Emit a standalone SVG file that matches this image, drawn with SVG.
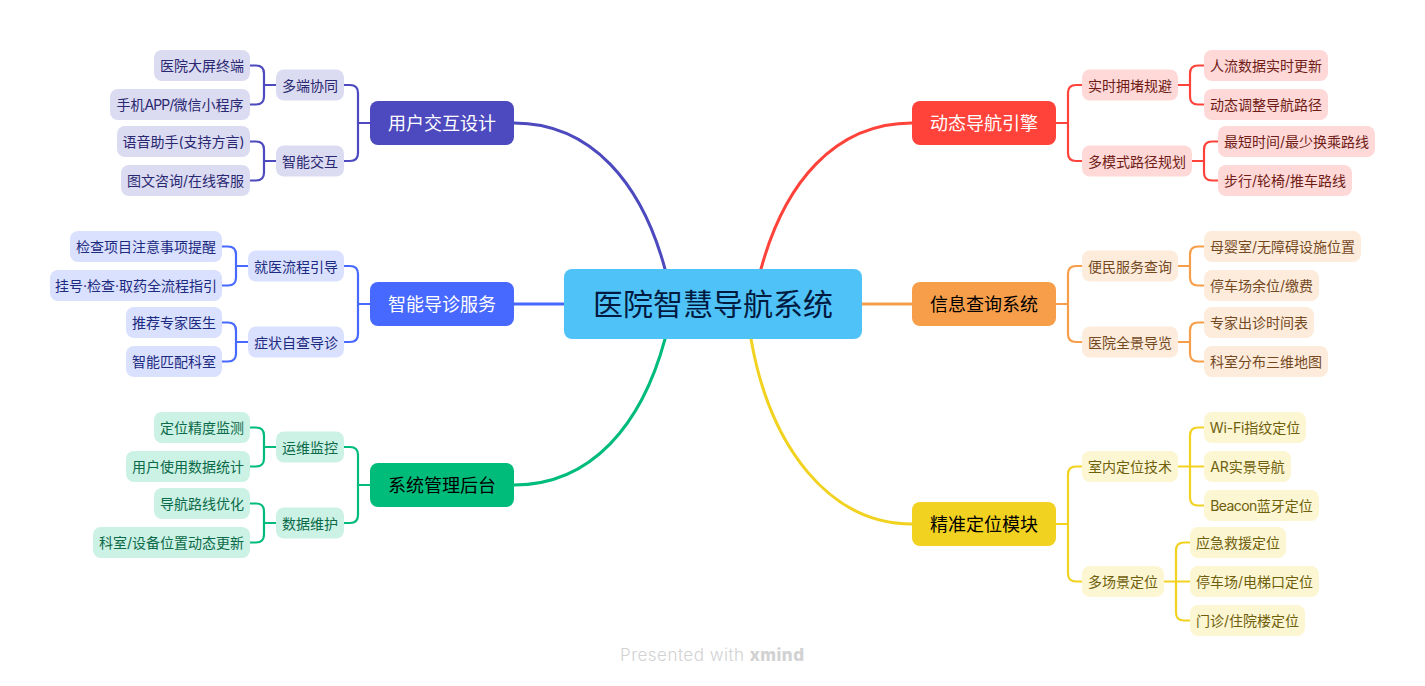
<svg xmlns="http://www.w3.org/2000/svg" width="1425" height="686" viewBox="0 0 1425 686">
<style>
text{font-family:Inter,"Noto Sans CJK SC",sans-serif;text-anchor:middle}
.l{font-size:14px}.m{font-size:18px}.c{font-size:30px;fill:#001a40}
.e{fill:none;stroke-linecap:round;stroke-linejoin:round}
.t{stroke-width:3}.b{stroke-width:2.2}
.pu{stroke:#4d49be}.bl{stroke:#4869ff}.gr{stroke:#00bc7b}.re{stroke:#ff433a}.or{stroke:#f79e4b}.ye{stroke:#f2d220}
rect.fpu{fill:#4d49be}rect.fbl{fill:#4869ff}rect.fgr{fill:#00bc7b}rect.fre{fill:#ff433a}rect.for{fill:#f79e4b}rect.fye{fill:#f2d220}
rect.spu{fill:#dbdbf2}rect.sbl{fill:#dae1ff}rect.sgr{fill:#ccf2e5}rect.sre{fill:#ffd9d8}rect.sor{fill:#fdecdb}rect.sye{fill:#fcf6d2}
text.spu{fill:#2a2870}text.sbl{fill:#1c2a80}text.sgr{fill:#0b6a49}text.sre{fill:#701c17}text.sor{fill:#75491f}text.sye{fill:#6f5f0c}
</style>
<g id="connectors">
<path class="e t pu" d="M514 123C592 123 642 184 665 269"/>
<path class="e t re" d="M912 123C834 123 784 184 761 269"/>
<path class="e t gr" d="M514 485C592 485 642 424 665 339"/>
<path class="e t ye" d="M912 524C830 524 770 448 751 339"/>
<path class="e t bl" d="M514 304H564"/>
<path class="e t or" d="M862 304H912"/>
<g class="e b pu"><path d="M370 123H358M344 85H350Q358 85 358 93V153Q358 161 350 161H344"/><path d="M276 85H264M250 65.500H256Q264 65.500 264 73.500V96.500Q264 104.500 256 104.500H250"/><path d="M276 161H264M250 141.500H256Q264 141.500 264 149.500V172.500Q264 180.500 256 180.500H250"/></g>
<g class="e b bl"><path d="M370 304H358M344 266H350Q358 266 358 274V334Q358 342 350 342H344"/><path d="M248 266H236M222 246.500H228Q236 246.500 236 254.500V277.500Q236 285.500 228 285.500H222"/><path d="M248 342H236M222 322.500H228Q236 322.500 236 330.500V353.500Q236 361.500 228 361.500H222"/></g>
<g class="e b gr"><path d="M370 485H358M344 447H350Q358 447 358 455V515Q358 523 350 523H344"/><path d="M276 447H264M250 427.500H256Q264 427.500 264 435.500V458.500Q264 466.500 256 466.500H250"/><path d="M276 523H264M250 503.500H256Q264 503.500 264 511.500V534.500Q264 542.500 256 542.500H250"/></g>
<g class="e b re"><path d="M1056 123H1068M1082 85H1076Q1068 85 1068 93V153Q1068 161 1076 161H1082"/><path d="M1178 85H1190M1204 65.500H1198Q1190 65.500 1190 73.500V96.500Q1190 104.500 1198 104.500H1204"/><path d="M1192 161H1204M1218 141.500H1212Q1204 141.500 1204 149.500V172.500Q1204 180.500 1212 180.500H1218"/></g>
<g class="e b or"><path d="M1056 304H1068M1082 266H1076Q1068 266 1068 274V334Q1068 342 1076 342H1082"/><path d="M1178 266H1190M1204 246.500H1198Q1190 246.500 1190 254.500V277.500Q1190 285.500 1198 285.500H1204"/><path d="M1178 342H1190M1204 322.500H1198Q1190 322.500 1190 330.500V353.500Q1190 361.500 1198 361.500H1204"/></g>
<g class="e b ye"><path d="M1056 524H1068M1082 466.500H1076Q1068 466.500 1068 474.500V573.500Q1068 581.500 1076 581.500H1082"/><path d="M1178 466.500H1204M1204 427.500H1198Q1190 427.500 1190 435.500V497.500Q1190 505.500 1198 505.500H1204"/><path d="M1164 581.500H1190M1190 542.500H1184Q1176 542.500 1176 550.500V612.500Q1176 620.500 1184 620.500H1190"/></g>
</g>
<g id="root"><rect x="564" y="269" width="298" height="70" rx="8" fill="#4fc2f8"/><text class="c" x="713" y="315">医院智慧导航系统</text></g>
<g id="n1"><rect class="fpu" x="370" y="101" width="144" height="44" rx="8"/><text class="m" x="442" y="129.500" fill="#fff">用户交互设计</text></g>
<g id="n2"><rect class="fbl" x="370" y="282" width="144" height="44" rx="8"/><text class="m" x="442" y="310.500" fill="#fff">智能导诊服务</text></g>
<g id="n3"><rect class="fgr" x="370" y="463" width="144" height="44" rx="8"/><text class="m" x="442" y="491.500" fill="#000">系统管理后台</text></g>
<g id="n4"><rect class="fre" x="912" y="101" width="144" height="44" rx="8"/><text class="m" x="984" y="129.500" fill="#fff">动态导航引擎</text></g>
<g id="n5"><rect class="for" x="912" y="282" width="144" height="44" rx="8"/><text class="m" x="984" y="310.500" fill="#000">信息查询系统</text></g>
<g id="n6"><rect class="fye" x="912" y="502" width="144" height="44" rx="8"/><text class="m" x="984" y="530.500" fill="#000">精准定位模块</text></g>
<g id="n1a"><rect class="spu" x="276" y="69.500" width="68" height="31" rx="8"/><text class="l spu" x="310" y="91">多端协同</text></g>
<g id="n1a1"><rect class="spu" x="154" y="50" width="96" height="31" rx="8"/><text class="l spu" x="202" y="70.500">医院大屏终端</text></g>
<g id="n1a2"><rect class="spu" x="110" y="89" width="140" height="31" rx="8"/><text class="l spu" x="180" y="109.500">手机<tspan letter-spacing="-.9">APP/</tspan>微信小程序</text></g>
<g id="n1b"><rect class="spu" x="276" y="145.500" width="68" height="31" rx="8"/><text class="l spu" x="310" y="167">智能交互</text></g>
<g id="n1b1"><rect class="spu" x="117" y="126" width="133" height="31" rx="8"/><text class="l spu" x="183.500" y="146.500">语音助手(支持方言)</text></g>
<g id="n1b2"><rect class="spu" x="121" y="165" width="129" height="31" rx="8"/><text class="l spu" x="185.500" y="185.500">图文咨询/在线客服</text></g>
<g id="n2a"><rect class="sbl" x="248" y="250.500" width="96" height="31" rx="8"/><text class="l sbl" x="296" y="272">就医流程引导</text></g>
<g id="n2a1"><rect class="sbl" x="70" y="231" width="152" height="31" rx="8"/><text class="l sbl" x="146" y="251.500">检查项目注意事项提醒</text></g>
<g id="n2a2"><rect class="sbl" x="50" y="270" width="172" height="31" rx="8"/><text class="l sbl" x="136" y="290.500">挂号·检查·取药全流程指引</text></g>
<g id="n2b"><rect class="sbl" x="248" y="326.500" width="96" height="31" rx="8"/><text class="l sbl" x="296" y="348">症状自查导诊</text></g>
<g id="n2b1"><rect class="sbl" x="126" y="307" width="96" height="31" rx="8"/><text class="l sbl" x="174" y="327.500">推荐专家医生</text></g>
<g id="n2b2"><rect class="sbl" x="126" y="346" width="96" height="31" rx="8"/><text class="l sbl" x="174" y="366.500">智能匹配科室</text></g>
<g id="n3a"><rect class="sgr" x="276" y="431.500" width="68" height="31" rx="8"/><text class="l sgr" x="310" y="453">运维监控</text></g>
<g id="n3a1"><rect class="sgr" x="154" y="412" width="96" height="31" rx="8"/><text class="l sgr" x="202" y="432.500">定位精度监测</text></g>
<g id="n3a2"><rect class="sgr" x="126" y="451" width="124" height="31" rx="8"/><text class="l sgr" x="188" y="471.500">用户使用数据统计</text></g>
<g id="n3b"><rect class="sgr" x="276" y="507.500" width="68" height="31" rx="8"/><text class="l sgr" x="310" y="529">数据维护</text></g>
<g id="n3b1"><rect class="sgr" x="154" y="488" width="96" height="31" rx="8"/><text class="l sgr" x="202" y="508.500">导航路线优化</text></g>
<g id="n3b2"><rect class="sgr" x="93" y="527" width="157" height="31" rx="8"/><text class="l sgr" x="171.500" y="547.500">科室/设备位置动态更新</text></g>
<g id="n4a"><rect class="sre" x="1082" y="69.500" width="96" height="31" rx="8"/><text class="l sre" x="1130" y="91">实时拥堵规避</text></g>
<g id="n4a1"><rect class="sre" x="1204" y="50" width="124" height="31" rx="8"/><text class="l sre" x="1266" y="70.500">人流数据实时更新</text></g>
<g id="n4a2"><rect class="sre" x="1204" y="89" width="124" height="31" rx="8"/><text class="l sre" x="1266" y="109.500">动态调整导航路径</text></g>
<g id="n4b"><rect class="sre" x="1082" y="145.500" width="110" height="31" rx="8"/><text class="l sre" x="1137" y="167">多模式路径规划</text></g>
<g id="n4b1"><rect class="sre" x="1218" y="126" width="157" height="31" rx="8"/><text class="l sre" x="1296.500" y="146.500">最短时间/最少换乘路线</text></g>
<g id="n4b2"><rect class="sre" x="1218" y="165" width="134" height="31" rx="8"/><text class="l sre" x="1285" y="185.500">步行/轮椅/推车路线</text></g>
<g id="n5a"><rect class="sor" x="1082" y="250.500" width="96" height="31" rx="8"/><text class="l sor" x="1130" y="272">便民服务查询</text></g>
<g id="n5a1"><rect class="sor" x="1204" y="231" width="157" height="31" rx="8"/><text class="l sor" x="1282.500" y="251.500">母婴室/无障碍设施位置</text></g>
<g id="n5a2"><rect class="sor" x="1204" y="270" width="115" height="31" rx="8"/><text class="l sor" x="1261.500" y="290.500">停车场余位/缴费</text></g>
<g id="n5b"><rect class="sor" x="1082" y="326.500" width="96" height="31" rx="8"/><text class="l sor" x="1130" y="348">医院全景导览</text></g>
<g id="n5b1"><rect class="sor" x="1204" y="307" width="110" height="31" rx="8"/><text class="l sor" x="1259" y="327.500">专家出诊时间表</text></g>
<g id="n5b2"><rect class="sor" x="1204" y="346" width="124" height="31" rx="8"/><text class="l sor" x="1266" y="366.500">科室分布三维地图</text></g>
<g id="n6a"><rect class="sye" x="1082" y="451" width="96" height="31" rx="8"/><text class="l sye" x="1130" y="471.500">室内定位技术</text></g>
<g id="n6a1"><rect class="sye" x="1204" y="412" width="102" height="31" rx="8"/><text class="l sye" x="1255" y="432.500"><tspan letter-spacing="-.2">Wi-Fi</tspan>指纹定位</text></g>
<g id="n6a2"><rect class="sye" x="1204" y="451" width="87" height="31" rx="8"/><text class="l sye" x="1247.500" y="471.500">AR实景导航</text></g>
<g id="n6a3"><rect class="sye" x="1204" y="490" width="115" height="31" rx="8"/><text class="l sye" x="1261.500" y="510.500"><tspan letter-spacing="-.6">Beacon</tspan>蓝牙定位</text></g>
<g id="n6b"><rect class="sye" x="1082" y="566" width="82" height="31" rx="8"/><text class="l sye" x="1123" y="586.500">多场景定位</text></g>
<g id="n6b1"><rect class="sye" x="1190" y="527" width="96" height="31" rx="8"/><text class="l sye" x="1238" y="547.500">应急救援定位</text></g>
<g id="n6b2"><rect class="sye" x="1190" y="566" width="129" height="31" rx="8"/><text class="l sye" x="1254.500" y="586.500">停车场/电梯口定位</text></g>
<g id="n6b3"><rect class="sye" x="1190" y="605" width="115" height="31" rx="8"/><text class="l sye" x="1247.500" y="625.500">门诊/住院楼定位</text></g>
<text x="712" y="661" font-size="17" font-weight="300" fill="#d2d2d2" textLength="184">Presented with <tspan font-weight="800">xmind</tspan></text>
</svg>
